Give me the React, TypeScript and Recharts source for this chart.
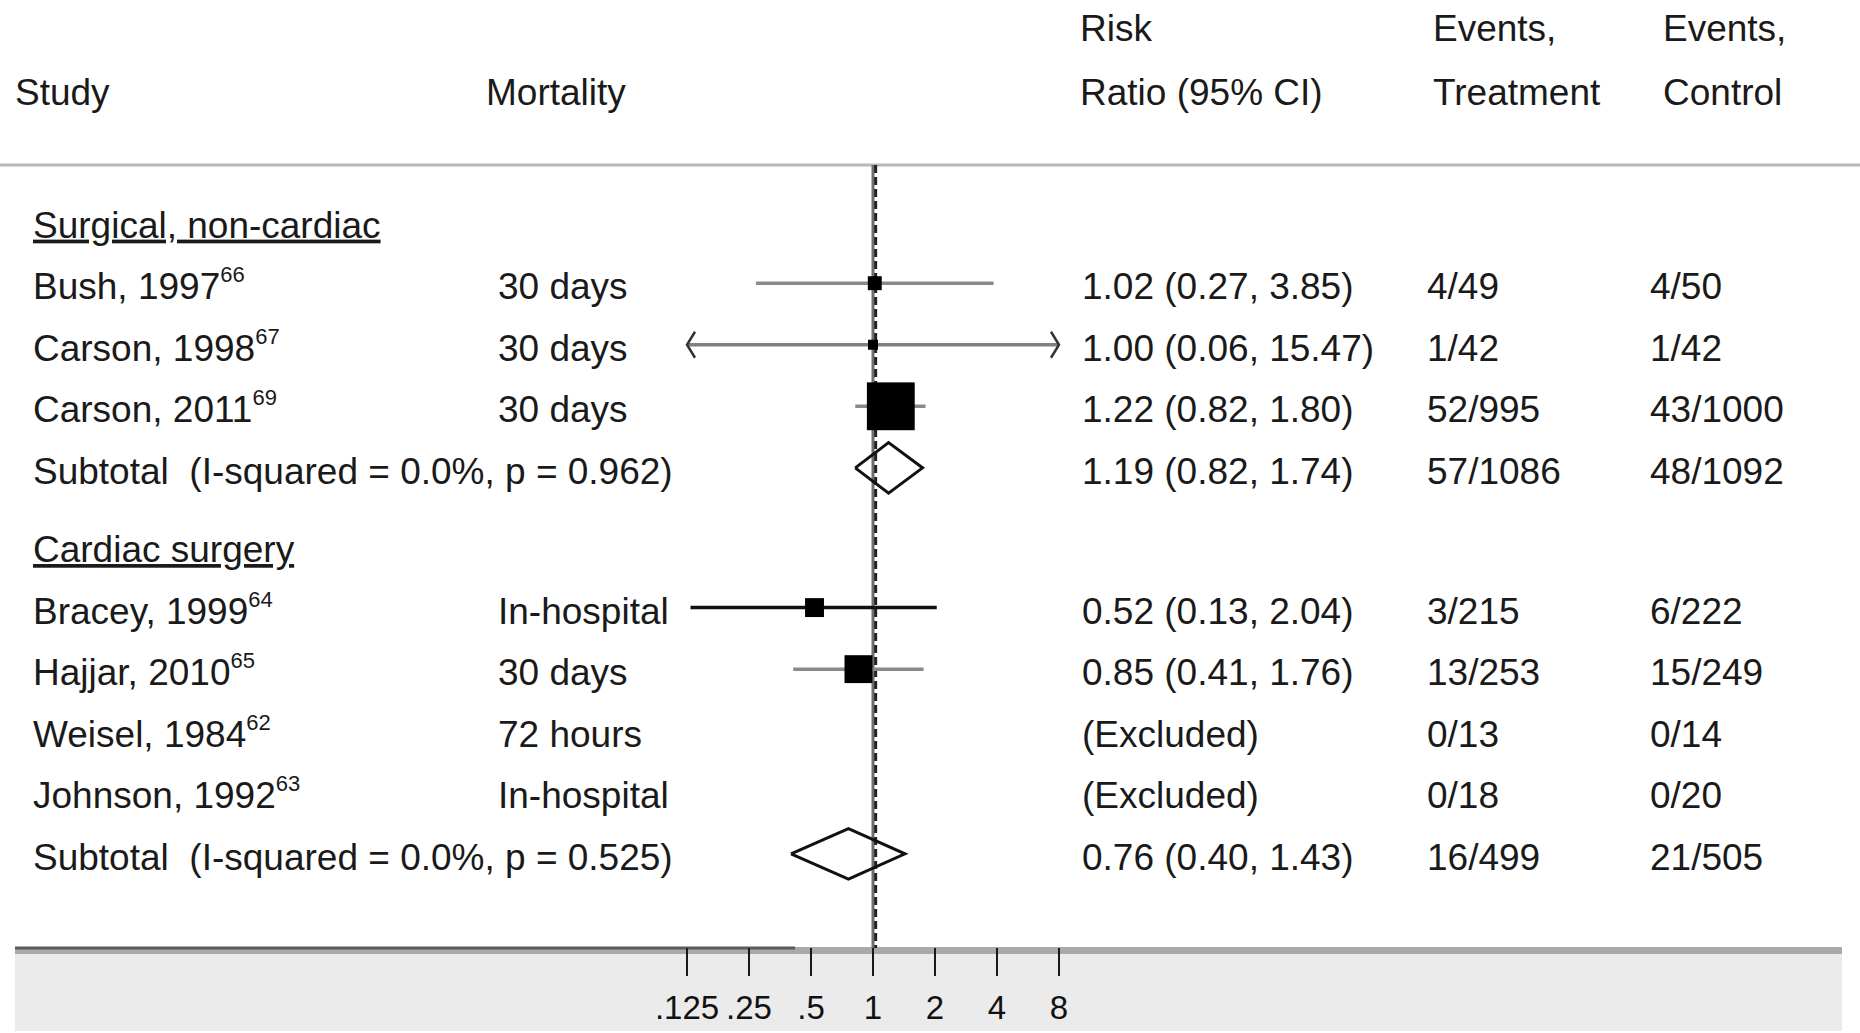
import React from 'react';
import { ComposedChart, Scatter, XAxis, YAxis } from 'recharts';

// ---- Forest plot data -------------------------------------------------------
const SUBGROUPS = ['Surgical, non-cardiac', 'Cardiac surgery'];
const SUBGROUP_I2 = ['0.0%', '0.0%'];
const SUBGROUP_P = ['0.962', '0.525'];
const SUBGROUP_RR = [1.19, 0.76];
const SUBGROUP_LOW = [0.82, 0.4];
const SUBGROUP_HIGH = [1.74, 1.43];
const SUBGROUP_EVENTS_TREATMENT = ['57/1086', '16/499'];
const SUBGROUP_EVENTS_CONTROL = ['48/1092', '21/505'];

const STUDIES = ['Bush, 1997', 'Carson, 1998', 'Carson, 2011', 'Bracey, 1999', 'Hajjar, 2010', 'Weisel, 1984', 'Johnson, 1992'];
const STUDY_REFS = ['66', '67', '69', '64', '65', '62', '63'];
const STUDY_SUBGROUP = [0, 0, 0, 1, 1, 1, 1];
const FOLLOW_UP = ['30 days', '30 days', '30 days', 'In-hospital', '30 days', '72 hours', 'In-hospital'];
const STUDY_RR: (number | null)[] = [1.02, 1.0, 1.22, 0.52, 0.85, null, null];
const STUDY_LOW: (number | null)[] = [0.27, 0.06, 0.82, 0.13, 0.41, null, null];
const STUDY_HIGH: (number | null)[] = [3.85, 15.47, 1.8, 2.04, 1.76, null, null];
const STUDY_WEIGHT = [5.2, 2.7, 61.5, 9.6, 20.9, 0, 0];
const EVENTS_TREATMENT = ['4/49', '1/42', '52/995', '3/215', '13/253', '0/13', '0/18'];
const EVENTS_CONTROL = ['4/50', '1/42', '43/1000', '6/222', '15/249', '0/14', '0/20'];

const OVERALL_RR = 1.03;
const AXIS_TICKS = [0.125, 0.25, 0.5, 1, 2, 4, 8];
const TICK_LABELS = ['.125', '.25', '.5', '1', '2', '4', '8'];

// ---- Layout & style ---------------------------------------------------------
const W = 1860;
const H = 1033;
const FONT = '"Liberation Sans", Arial, Helvetica, sans-serif';
const INK = '#1a1a1a';
const FS = 37;
const COL = { study: 33, followUp: 498, rr: 1082, treat: 1427, control: 1650 };
const HEAD_COL = { study: 15, followUp: 486, rr: 1080, treat: 1433, control: 1663 };
const X_MIN = AXIS_TICKS[0];
const X_MAX = AXIS_TICKS[AXIS_TICKS.length - 1];
const Y_MIN = 0.08;
const Y_MAX = 12.8;
const SUBGROUP_GAP = 1.27;
const DIAMOND_HALF = 0.41;
const BOX_SCALE = 6.1;
const CI_COLORS = ['#8a8a8a', '#808080', '#8a8a8a', '#111111', '#8a8a8a', '#8a8a8a', '#8a8a8a'];

type Row =
  | { kind: 'group'; slot: number; g: number }
  | { kind: 'study'; slot: number; i: number }
  | { kind: 'subtotal'; slot: number; g: number };

const rows: Row[] = [];
{
  let slot = 1;
  SUBGROUPS.forEach((_, g) => {
    if (g > 0) slot += SUBGROUP_GAP;
    rows.push({ kind: 'group', slot, g });
    STUDIES.forEach((__, i) => {
      if (STUDY_SUBGROUP[i] !== g) return;
      slot += 1;
      rows.push({ kind: 'study', slot, i });
    });
    slot += 1;
    rows.push({ kind: 'subtotal', slot, g });
  });
}

const fmt = (v: number) => v.toFixed(2);
const rrText = (rr: number | null, lo: number | null, hi: number | null) =>
  rr == null || lo == null || hi == null ? '(Excluded)' : `${fmt(rr)} (${fmt(lo)}, ${fmt(hi)})`;

const textData = rows.map((r) => ({ x: 1, y: r.slot, row: r }));

const studyRows = rows.filter((r) => r.kind === 'study') as { kind: 'study'; slot: number; i: number }[];
const estimated = studyRows.filter((r) => STUDY_RR[r.i] != null);

const boxData = estimated.map((r) => ({ x: STUDY_RR[r.i] as number, y: r.slot, weight: STUDY_WEIGHT[r.i] }));

const ciData = estimated.map((r) => {
  const lo = STUDY_LOW[r.i] as number;
  const hi = STUDY_HIGH[r.i] as number;
  return {
    i: r.i,
    points: [
      { x: Math.max(lo, X_MIN), y: r.slot, cut: lo < X_MIN ? 'left' : '' },
      { x: Math.min(hi, X_MAX), y: r.slot, cut: hi > X_MAX ? 'right' : '' },
    ],
  };
});

const diamondData = rows
  .filter((r) => r.kind === 'subtotal')
  .map((r: any) => {
    const g = r.g;
    const s = r.slot;
    return [
      { x: SUBGROUP_LOW[g], y: s },
      { x: SUBGROUP_RR[g], y: s - DIAMOND_HALF },
      { x: SUBGROUP_HIGH[g], y: s },
      { x: SUBGROUP_RR[g], y: s + DIAMOND_HALF },
      { x: SUBGROUP_LOW[g], y: s },
    ];
  });

const nullLine = [{ x: 1, y: Y_MIN }, { x: 1, y: Y_MAX }];
const overallLine = [{ x: OVERALL_RR, y: Y_MIN }, { x: OVERALL_RR, y: Y_MAX }];

// ---- Shapes -----------------------------------------------------------------
const Empty = () => <g />;

const CiEnd = (p: any) => {
  const { cx, cy, payload } = p;
  if (payload.cut === 'left')
    return (
      <polyline points={`${cx + 8},${cy - 13} ${cx},${cy} ${cx + 8},${cy + 13}`} fill="none" stroke="#333" strokeWidth={2.5} />
    );
  if (payload.cut === 'right')
    return (
      <polyline points={`${cx - 8},${cy - 13} ${cx},${cy} ${cx - 8},${cy + 13}`} fill="none" stroke="#333" strokeWidth={2.5} />
    );
  return <g />;
};

const Box = (p: any) => {
  const { cx, cy, payload } = p;
  const s = BOX_SCALE * Math.sqrt(payload.weight);
  return <rect x={cx - s / 2} y={cy - s / 2} width={s} height={s} fill="#000" />;
};

const TextRow = (p: any) => {
  const { cy, payload } = p;
  const r: Row = payload.row;
  const base = cy + 16;
  const t = { fontFamily: FONT, fontSize: FS, fill: INK };
  if (r.kind === 'group') {
    return (
      <text x={COL.study} y={base} {...t} textDecoration="underline">
        {SUBGROUPS[r.g]}
      </text>
    );
  }
  if (r.kind === 'study') {
    const i = r.i;
    return (
      <g>
        <text x={COL.study} y={base} {...t}>
          {STUDIES[i]}
          <tspan dy={-17} fontSize={22}>
            {STUDY_REFS[i]}
          </tspan>
        </text>
        <text x={COL.followUp} y={base} {...t}>
          {FOLLOW_UP[i]}
        </text>
        <text x={COL.rr} y={base} {...t}>
          {rrText(STUDY_RR[i], STUDY_LOW[i], STUDY_HIGH[i])}
        </text>
        <text x={COL.treat} y={base} {...t}>
          {EVENTS_TREATMENT[i]}
        </text>
        <text x={COL.control} y={base} {...t}>
          {EVENTS_CONTROL[i]}
        </text>
      </g>
    );
  }
  const g = r.g;
  return (
    <g>
      <text x={COL.study} y={base} {...t} style={{ whiteSpace: 'pre' }}>
        {`Subtotal  (I-squared = ${SUBGROUP_I2[g]}, p = ${SUBGROUP_P[g]})`}
      </text>
      <text x={COL.rr} y={base} {...t}>
        {rrText(SUBGROUP_RR[g], SUBGROUP_LOW[g], SUBGROUP_HIGH[g])}
      </text>
      <text x={COL.treat} y={base} {...t}>
        {SUBGROUP_EVENTS_TREATMENT[g]}
      </text>
      <text x={COL.control} y={base} {...t}>
        {SUBGROUP_EVENTS_CONTROL[g]}
      </text>
    </g>
  );
};

const tickFmt = (v: number) => {
  const k = AXIS_TICKS.indexOf(v);
  return k >= 0 ? TICK_LABELS[k] : String(v);
};

export default function App() {
  const head = { fontFamily: FONT, fontSize: FS, fill: INK };
  return (
    <div style={{ position: 'absolute', left: 0, top: 0, width: W, height: H, background: '#fff', overflow: 'hidden' }}>
      <svg width={W} height={H} style={{ position: 'absolute', left: 0, top: 0 }}>
        {/* column headings */}
        <text x={HEAD_COL.rr} y={41} {...head}>Risk</text>
        <text x={HEAD_COL.treat} y={41} {...head}>Events,</text>
        <text x={HEAD_COL.control} y={41} {...head}>Events,</text>
        <text x={HEAD_COL.study} y={105} {...head}>Study</text>
        <text x={HEAD_COL.followUp} y={105} {...head}>Mortality</text>
        <text x={HEAD_COL.rr} y={105} {...head}>Ratio (95% CI)</text>
        <text x={HEAD_COL.treat} y={105} {...head}>Treatment</text>
        <text x={HEAD_COL.control} y={105} {...head}>Control</text>
        {/* heading rule */}
        <rect x={0} y={163.5} width={W} height={3} fill="#b8b8b8" />
        {/* axis band */}
        <rect x={15} y={947} width={1827} height={84} fill="#ebebeb" />
        <rect x={15} y={947} width={1827} height={7} fill="#a9a9a9" />
        <rect x={15} y={946.5} width={780} height={3} fill="#5a5a5a" />
      </svg>
      <div style={{ position: 'absolute', left: 0, top: 0 }}>
        <ComposedChart width={W} height={H} margin={{ top: 165, right: W - 1059, bottom: 0, left: 687 }}>
          <XAxis
            type="number"
            dataKey="x"
            scale="log"
            domain={[X_MIN, X_MAX]}
            ticks={AXIS_TICKS}
            interval={0}
            tickFormatter={tickFmt}
            height={85}
            axisLine={false}
            tickLine={{ stroke: '#1a1a1a', strokeWidth: 2 }}
            tickSize={28}
            tickMargin={20}
            tick={{ fontSize: 33, fill: '#111', fontFamily: FONT }}
          />
          <YAxis type="number" dataKey="y" domain={[Y_MIN, Y_MAX]} reversed hide width={0} />

          <Scatter data={nullLine} line={{ stroke: '#6f6f6f', strokeWidth: 3 }} shape={Empty} isAnimationActive={false} />
          <Scatter
            data={overallLine}
            line={{ stroke: '#222', strokeWidth: 3, strokeDasharray: '8 4' }}
            shape={Empty}
            isAnimationActive={false}
          />
          {ciData.map((c) => (
            <Scatter
              key={`ci-${c.i}`}
              data={c.points}
              line={{ stroke: CI_COLORS[c.i], strokeWidth: 3.5 }}
              shape={CiEnd}
              isAnimationActive={false}
            />
          ))}
          <Scatter data={boxData} shape={Box} isAnimationActive={false} />
          {diamondData.map((d, k) => (
            <Scatter
              key={`dia-${k}`}
              data={d}
              line={{ stroke: '#111', strokeWidth: 3, strokeLinejoin: 'miter' }}
              shape={Empty}
              isAnimationActive={false}
            />
          ))}
          <Scatter data={textData} shape={TextRow} isAnimationActive={false} />
        </ComposedChart>
      </div>
    </div>
  );
}
